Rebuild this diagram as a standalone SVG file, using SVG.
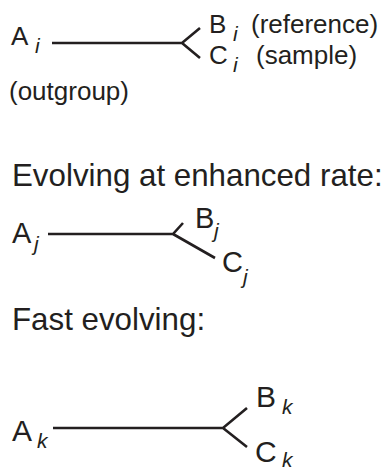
<svg xmlns="http://www.w3.org/2000/svg" width="389" height="472" viewBox="0 0 389 472">
<style>
text{font-family:"Liberation Sans",Arial,sans-serif;fill:#231f20;font-size:26px}
.h{font-size:31.3px}
.m{font-size:29px}
.l{font-size:30px}
.s{font-style:italic;font-size:21px}
.e{stroke:#231f20;stroke-width:2.6;fill:none}
</style>
<rect width="389" height="472" fill="#fff"/>
<g id="tree-i">
<g id="Ai"><text x="11" y="45">A</text><text class="s" x="35" y="53">i</text></g>
<g id="outgroup"><text x="9" y="100">(outgroup)</text></g>
<g id="Bi"><text x="209" y="33">B</text><text class="s" x="233" y="41">i</text><text x="251" y="33">(reference)</text></g>
<g id="Ci"><text x="209" y="64">C</text><text class="s" x="233" y="72">i</text><text x="256" y="64">(sample)</text></g>
</g>
<g id="heading-j"><text class="h" x="12" y="186">Evolving at enhanced rate:</text></g>
<g id="tree-j">
<g id="Aj"><text class="m" x="12" y="243">A</text><text class="s" x="34" y="251">j</text></g>
<g id="Bj"><text class="m" x="195" y="228">B</text><text class="s" x="214" y="238">j</text></g>
<g id="Cj"><text class="m" x="222" y="272">C</text><text class="s" x="243" y="284">j</text></g>
</g>
<g id="heading-k"><text class="h" x="12" y="330">Fast evolving:</text></g>
<g id="tree-k">
<g id="Ak"><text class="l" x="12" y="441">A</text><text class="s" x="37" y="448">k</text></g>
<g id="Bk"><text class="l" x="256" y="407">B</text><text class="s" x="282" y="414">k</text></g>
<g id="Ck"><text class="l" x="255" y="462">C</text><text class="s" x="282" y="467">k</text></g>
</g>
<g id="connectors">
<path class="e" d="M52 43H182L200 28M182 43L200 58"/>
<path class="e" d="M48 234H173L183 223M173 234L215 258"/>
<path class="e" d="M53 428H223L247 408M223 428L247 447"/>
</g>
</svg>
